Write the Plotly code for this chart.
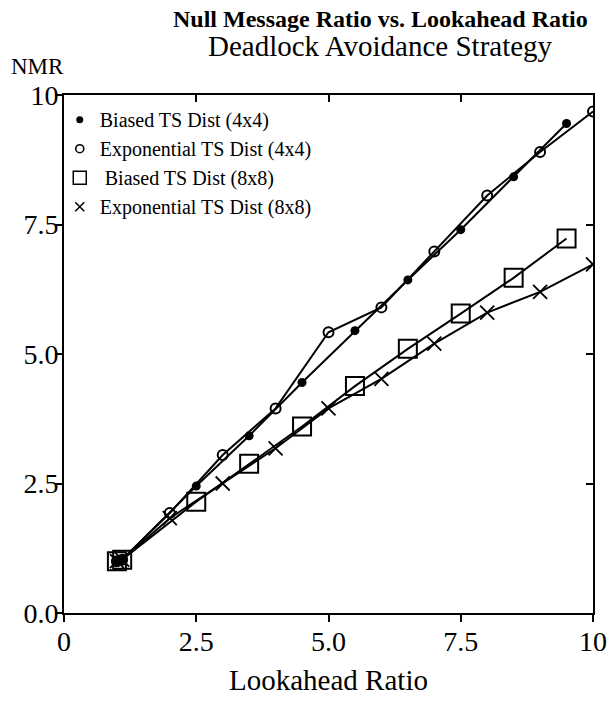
import plotly.graph_objects as go

# Data
x_b44 = [1.0, 1.1, 2.5, 3.5, 4.5, 5.5, 6.5, 7.5, 8.5, 9.5]
y_b44 = [1.0, 1.03, 2.45, 3.42, 4.45, 5.45, 6.43, 7.4, 8.42, 9.45]

x_e44 = [1.0, 1.1, 2, 3, 4, 5, 6, 7, 8, 9, 10]
y_e44 = [1.0, 1.03, 1.93, 3.05, 3.95, 5.42, 5.9, 6.98, 8.06, 8.9, 9.68]

x_b88 = [1.0, 1.1, 2.5, 3.5, 4.5, 5.5, 6.5, 7.5, 8.5, 9.5]
y_b88 = [1.0, 1.03, 2.15, 2.88, 3.6, 4.38, 5.1, 5.78, 6.47, 7.23]

x_e88 = [1.0, 1.1, 2, 3, 4, 5, 6, 7, 8, 9, 10]
y_e88 = [1.0, 1.03, 1.83, 2.5, 3.18, 3.95, 4.52, 5.2, 5.8, 6.2, 6.73]

series_names = ["Biased TS Dist (4x4)", "Exponential TS Dist (4x4)",
                " Biased TS Dist (8x8)", "Exponential TS Dist (8x8)"]

xtick_vals = [0, 2.5, 5, 7.5, 10]
xtick_text = ["0", "2.5", "5.0", "7.5", "10"]
ytick_vals = [0, 2.5, 5, 7.5, 10]
ytick_text = ["0.0", "2.5", "5.0", "7.5", "10"]

FONT = "Liberation Serif"

series = [
    (x_b44, y_b44, dict(symbol="circle", size=9, color="black"),
     dict(symbol="circle", size=7, color="black")),
    (x_e44, y_e44, dict(symbol="circle-open", size=10, color="black", line=dict(width=2)),
     dict(symbol="circle-open", size=8, color="black", line=dict(width=1.6))),
    (x_b88, y_b88, dict(symbol="square-open", size=18, color="black", line=dict(width=2)),
     dict(symbol="square-open", size=13, color="black", line=dict(width=1.5))),
    (x_e88, y_e88, dict(symbol="x-thin-open", size=14, color="black", line=dict(width=1.8)),
     dict(symbol="x-thin-open", size=9, color="black", line=dict(width=1.5))),
]

fig = go.Figure()
for name, (xs, ys, mk, lmk) in zip(series_names, series):
    fig.add_trace(go.Scatter(x=xs, y=ys, mode="lines+markers", name=name, showlegend=False,
                             line=dict(color="black", width=2), marker=mk))
    # legend entry (markers only, no data)
    fig.add_trace(go.Scatter(x=[None], y=[None], mode="markers", name=name, marker=lmk))

# invisible trace for the mirrored (top / right) axes with inward ticks
fig.add_trace(go.Scatter(x=[0], y=[0], xaxis="x2", yaxis="y2", mode="markers",
                         marker=dict(opacity=0), showlegend=False, hoverinfo="skip"))

axis_common = dict(showgrid=False, zeroline=False, showline=True, linecolor="black", linewidth=2,
                   tickcolor="black", tickwidth=2, ticklen=7, automargin=False)
tickfont = dict(family=FONT, size=28, color="black")

fig.update_layout(
    width=611, height=709,
    margin=dict(l=64, r=18, t=95, b=96, autoexpand=False),
    paper_bgcolor="white", plot_bgcolor="white",
    font=dict(family=FONT, color="black"),
    xaxis=dict(range=[0, 10], tickvals=xtick_vals, ticktext=xtick_text, ticks="outside",
               tickfont=tickfont, ticklabelstandoff=-5,
               title=dict(text="Lookahead Ratio", font=dict(family=FONT, size=29), standoff=14),
               **axis_common),
    yaxis=dict(range=[0, 10], tickvals=ytick_vals, ticktext=ytick_text, ticks="outside",
               tickfont=tickfont, ticklabelstandoff=-9, **axis_common),
    xaxis2=dict(range=[0, 10], overlaying="x", side="top", tickvals=[2.5, 5, 7.5], ticks="inside",
                showticklabels=False, **axis_common),
    yaxis2=dict(range=[0, 10], overlaying="y", side="right", tickvals=[2.5, 5, 7.5], ticks="inside",
                showticklabels=False, **axis_common),
    legend=dict(x=-0.008, y=0.99, xanchor="left", yanchor="top", bgcolor="rgba(0,0,0,0)",
                font=dict(family=FONT, size=20, color="black"), tracegroupgap=0,
                itemsizing="trace", itemwidth=30),
    showlegend=True,
    annotations=[
        dict(text="<b>Null Message Ratio vs. Lookahead Ratio</b>", xref="paper", yref="paper",
             x=0.599, y=1.0, yshift=76, xanchor="center", yanchor="middle", showarrow=False,
             font=dict(family=FONT, size=24, color="black")),
        dict(text="Deadlock Avoidance Strategy", xref="paper", yref="paper",
             x=0.599, y=1.0, yshift=49, xanchor="center", yanchor="middle", showarrow=False,
             font=dict(family=FONT, size=29, color="black")),
        dict(text="NMR", xref="paper", yref="paper",
             x=0.0, xshift=-55, y=1.0, yshift=29, xanchor="left", yanchor="middle", showarrow=False,
             font=dict(family=FONT, size=23, color="black")),
    ],
)

fig.write_html("out.html")
